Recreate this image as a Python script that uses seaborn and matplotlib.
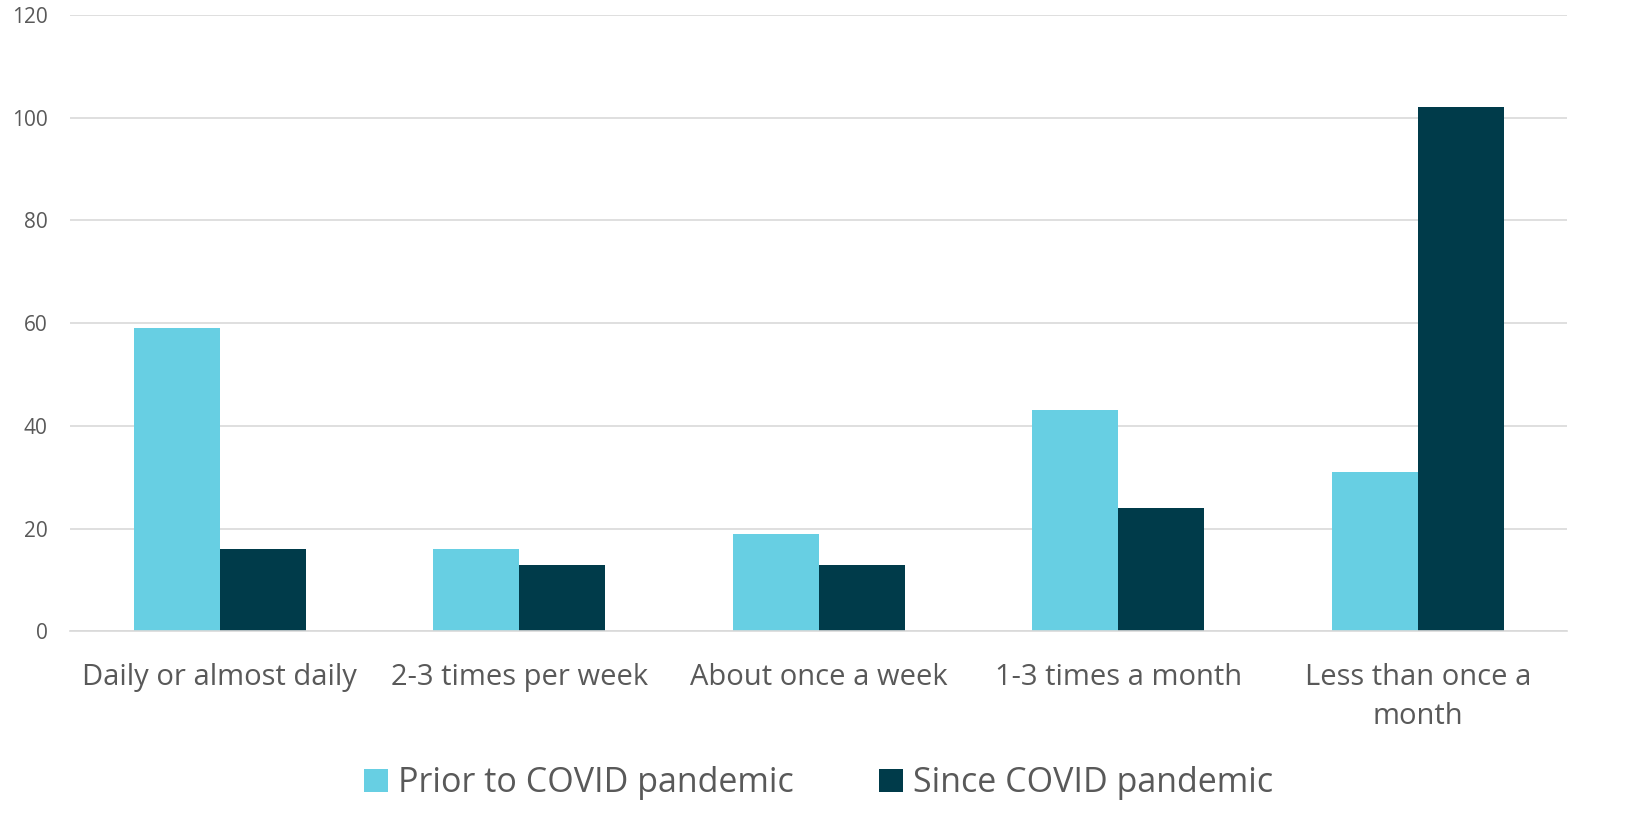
import seaborn as sns
import matplotlib.pyplot as plt
import pandas as pd

# data
categories = ["Daily or almost daily", "2-3 times per week", "About once a week",
              "1-3 times a month", "Less than once a\nmonth"]
prior = [59, 16, 19, 43, 31]
since = [16, 13, 13, 24, 102]
series_names = ["Prior to COVID pandemic", "Since COVID pandemic"]
y_ticks = [0, 20, 40, 60, 80, 100, 120]

sns.set_theme(style="white")
plt.rcParams['font.family'] = ['Open Sans', 'DejaVu Sans']

df = pd.DataFrame({
    "category": categories * 2,
    "value": prior + since,
    "series": [series_names[0]] * len(categories) + [series_names[1]] * len(categories),
})

fig = plt.figure(figsize=(16.26, 8.35), dpi=100)
ax = fig.add_axes([0.043, 0.244, 0.921, 0.738])

sns.barplot(data=df, x="category", y="value", hue="series",
            palette=["#67CFE3", "#003B4A"], width=0.575, saturation=1,
            linewidth=0, ax=ax, errorbar=None)

ax.set_ylim(0, 120)
ax.set_xlim(-0.5, 4.5)
ax.set_yticks(y_ticks)
ax.grid(axis="y", color="#D9D9D9", linewidth=1.2)
ax.set_axisbelow(True)
for s in ["left", "right", "top"]:
    ax.spines[s].set_visible(False)
ax.spines["bottom"].set_color("#D9D9D9")
ax.spines["bottom"].set_linewidth(1.2)
ax.set_xlabel("")
ax.set_ylabel("")
ax.tick_params(axis="x", labelsize=21, colors="#595959", length=0, pad=23)
ax.tick_params(axis="y", labelsize=15, colors="#595959", length=0, pad=16)
for lbl in ax.get_xticklabels():
    lbl.set_linespacing(1.45)

ax.legend(loc="center", bbox_to_anchor=(0.5, -0.247), ncol=2, frameon=False,
          fontsize=24.5, labelcolor="#595959", handlelength=0.7, handleheight=0.7,
          handletextpad=0.3, columnspacing=2.5)

fig.savefig("out.png", dpi=100)
